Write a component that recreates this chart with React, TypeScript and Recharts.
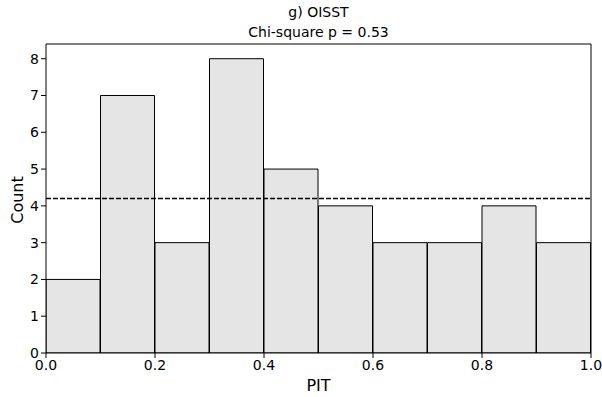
import { BarChart, Bar, XAxis, YAxis, ReferenceLine } from 'recharts'

const binStarts = [0.0, 0.1, 0.2, 0.3, 0.4, 0.5, 0.6, 0.7, 0.8, 0.9]
const counts = [2, 7, 3, 8, 5, 4, 3, 3, 4, 3]
const binWidth = 0.1
const xTicks = [0, 0.2, 0.4, 0.6, 0.8, 1.0]
const yTicks = [0, 1, 2, 3, 4, 5, 6, 7, 8]
const expected = 4.2

// bars sit at bin centres on a numeric PIT axis
const data = binStarts.map((s, i) => ({ mid: s + binWidth / 2, count: counts[i] }))

const font = 'DejaVu Sans, sans-serif'
const tickStyle = { fill: '#000', fontSize: 14, fontFamily: font }

export default function App() {
  return (
    <div style={{ position: 'absolute', left: 0, top: 0, width: 602, height: 397, background: '#fff', fontFamily: font }}>
      <div style={{ position: 'absolute', left: 46, width: 545, top: 2, textAlign: 'center', fontSize: 14, lineHeight: '20px', color: '#000' }}>
        g) OISST
        <br />
        Chi-square p = 0.53
      </div>
      <BarChart
        width={602}
        height={397}
        data={data}
        margin={{ top: 44, right: 11, left: 0, bottom: 0 }}
        barCategoryGap={0}
        barGap={0}
      >
        <XAxis
          dataKey="mid"
          type="number"
          domain={[0, 1]}
          ticks={xTicks}
          tickFormatter={(v: number) => v.toFixed(1)}
          tick={tickStyle}
          tickSize={5}
          axisLine={{ stroke: '#000' }}
          tickLine={{ stroke: '#000' }}
          height={44}
          allowDataOverflow
        />
        <YAxis
          type="number"
          domain={[0, 8.4]}
          ticks={yTicks}
          tick={tickStyle}
          tickSize={5}
          axisLine={{ stroke: '#000' }}
          tickLine={{ stroke: '#000' }}
          width={46}
          allowDataOverflow
        />
        <Bar
          dataKey="count"
          fill="#e5e5e5"
          stroke="#000"
          strokeWidth={1}
          isAnimationActive={false}
        />
        <ReferenceLine y={expected} stroke="#000" strokeWidth={1.3} strokeDasharray="5 2" />
        <ReferenceLine y={8.4} stroke="#000" strokeWidth={1} />
        <ReferenceLine x={1} stroke="#000" strokeWidth={1} />
      </BarChart>
      <div style={{ position: 'absolute', left: 46, width: 545, top: 376, textAlign: 'center', fontSize: 16, color: '#000' }}>
        PIT
      </div>
      <div
        style={{
          position: 'absolute',
          left: 17,
          top: 200,
          transform: 'translate(-50%, -50%) rotate(-90deg)',
          fontSize: 16,
          color: '#000',
          whiteSpace: 'nowrap',
        }}
      >
        Count
      </div>
    </div>
  )
}
